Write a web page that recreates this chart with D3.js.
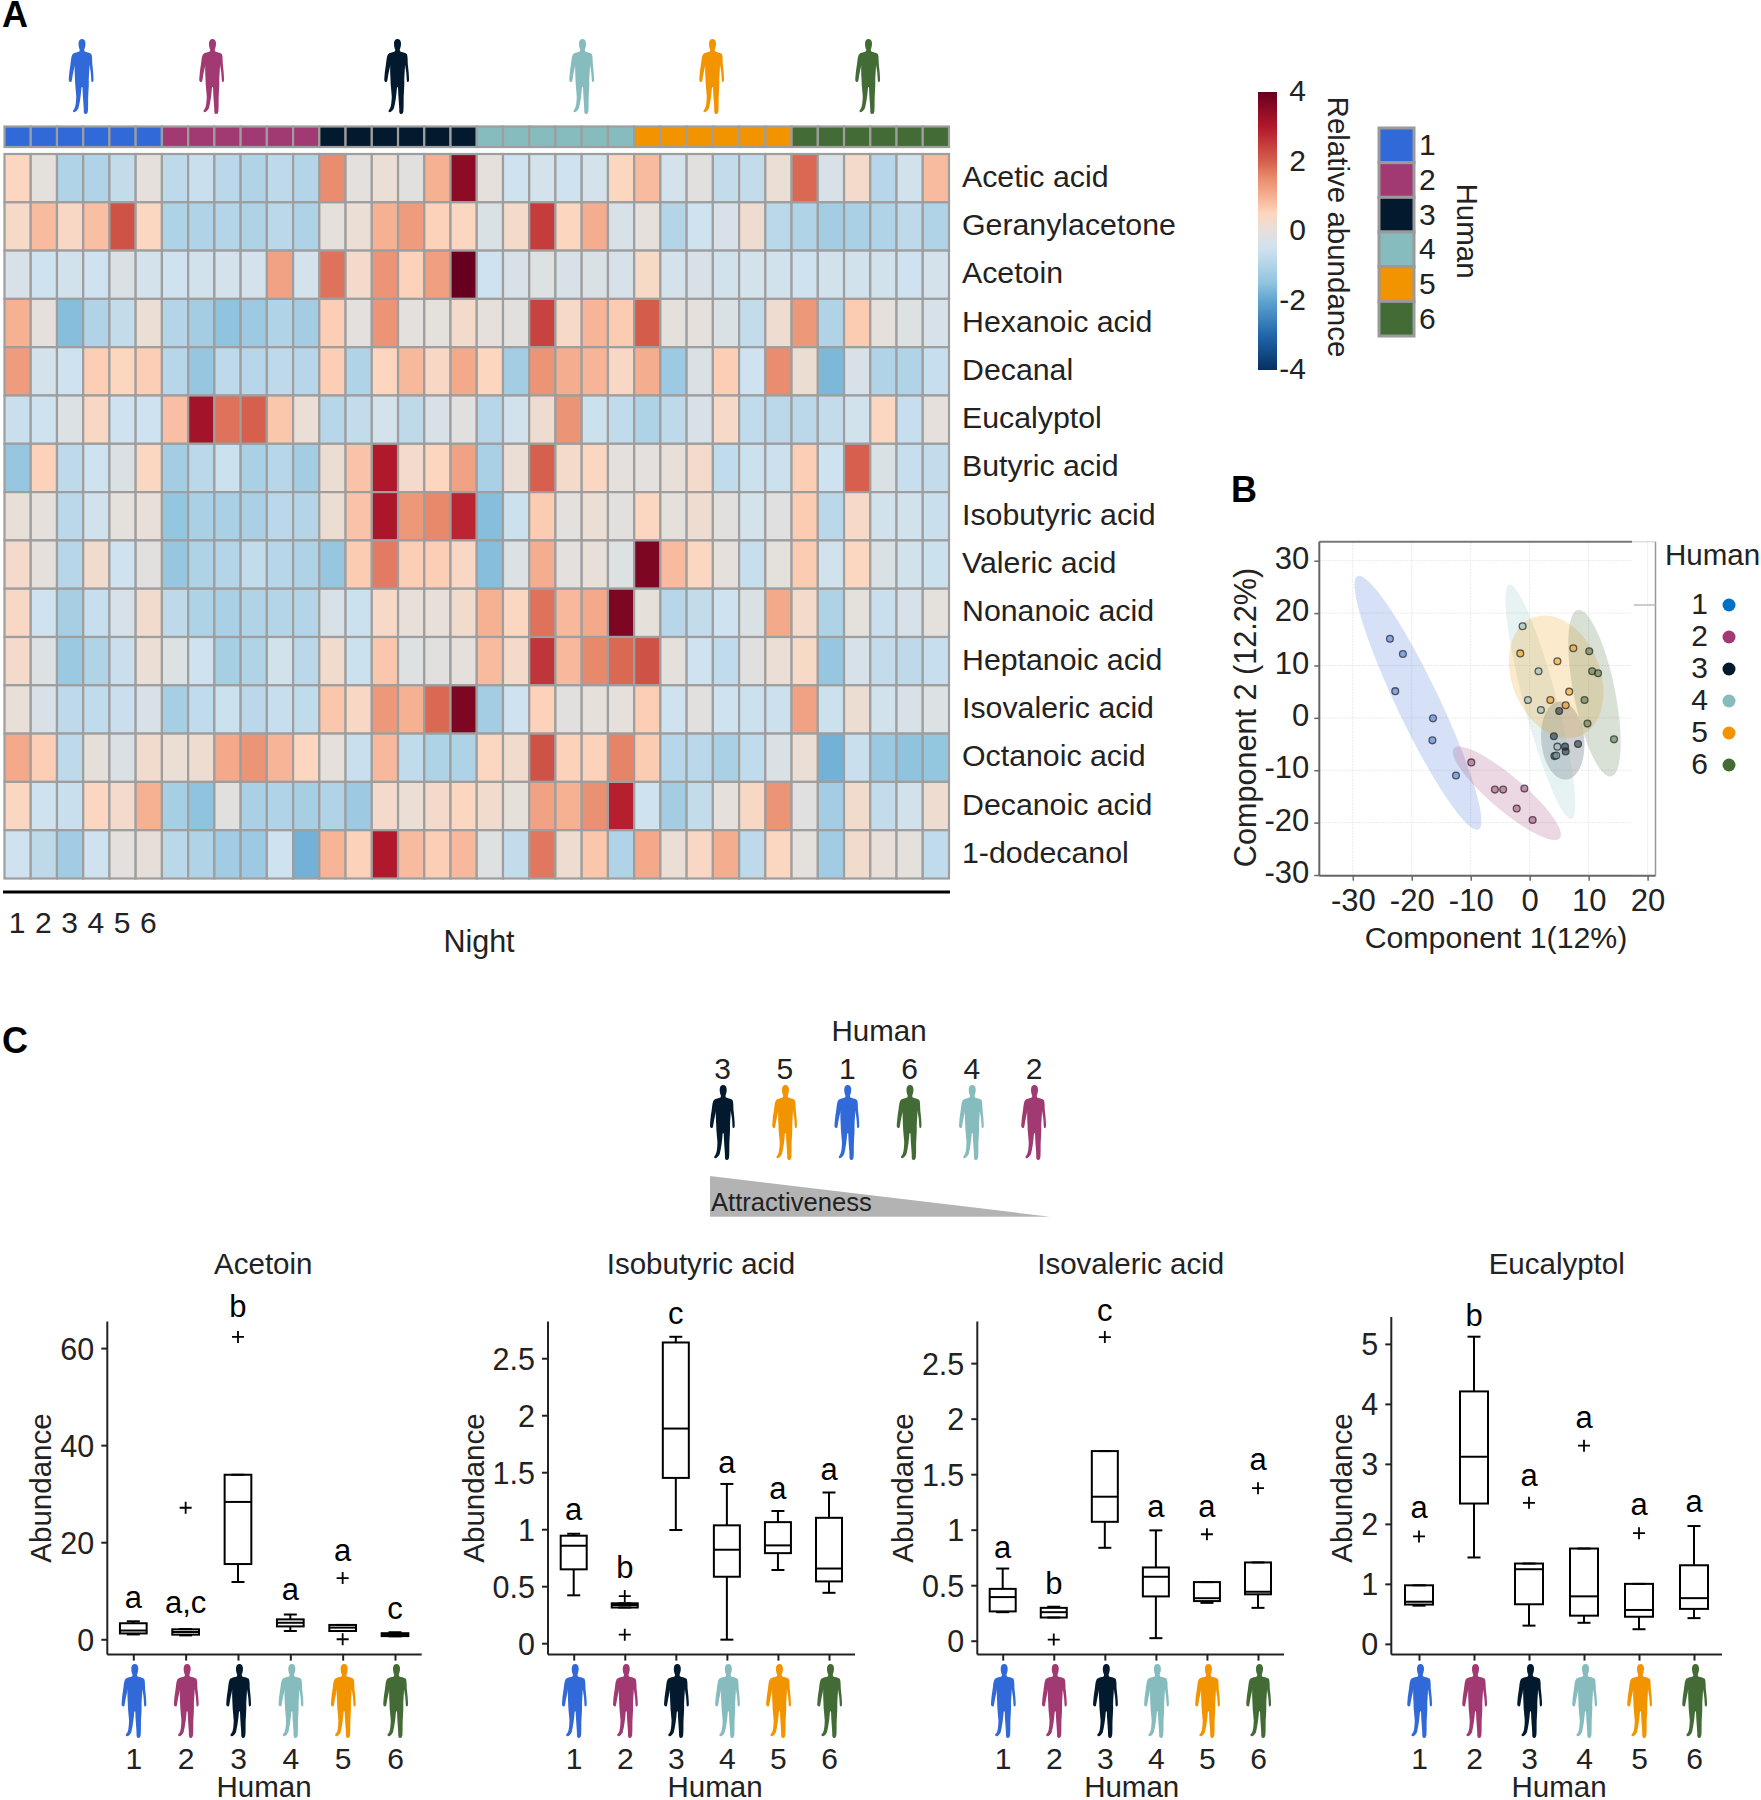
<!DOCTYPE html>
<html>
  <head>
    <meta charset="utf-8" />
    <script src="https://d3js.org/d3.v7.min.js"></script>
    <style>
      body { margin: 0; background: #fff; }
      text { font-family: "Liberation Sans", Arial, sans-serif; fill: #222; }
    </style>
  </head>
  <body>
    <div id="chart"></div>
    <script>
      // ---- data ----
      const humans = [1, 2, 3, 4, 5, 6];
      const humanColors = ["#3269d9", "#a13a72", "#03192e", "#86bcbe", "#f29400", "#426b35"];
      const legendDotColors = ["#0072c6", "#a13a72", "#03192e", "#86bcbe", "#f29400", "#426b35"];
      const attractivenessOrder = [3, 5, 1, 6, 4, 2];

      const compounds = [
        "Acetic acid", "Geranylacetone", "Acetoin", "Hexanoic acid", "Decanal",
        "Eucalyptol", "Butyric acid", "Isobutyric acid", "Valeric acid", "Nonanoic acid",
        "Heptanoic acid", "Isovaleric acid", "Octanoic acid", "Decanoic acid", "1-dodecanol",
      ];

      const heatValues = [
        [.5,-.03,-1,-1,-.7,0,-.8,-.6,-.85,-1,-.8,-.95,1.5,-.05,.1,-.1,1,3.5, 0,-.5,-.4,-.5,-.4,.5,.85,-.4,-.1,-.7,-.7,.1,1.9,-.3,.3,-.9,-.45,.85],
        [.35,.85,.4,.8,2.2,.45,-1.05,-1,-.95,-1.05,-.85,-1.05,0,.1,1,1.3,.55,.45, -.25,.3,2.5,.5,1.05,-.3,0,-.95,-.5,-.3,.2,-.85,-1,-1.2,-1.1,-1,-.8,-1],
        [-.3,-.5,-.45,-.5,-.25,-.4,-.5,-.45,-.4,-.4,1.2,-.4,1.8,.3,1.4,.55,1.25,4, -.5,-.3,-.15,-.3,-.25,-.35,.35,-.4,-.3,-.45,-.4,-.45,-.5,-.45,-.45,-.45,-.5,-.4],
        [1,0,-1.6,-1,-.7,.1,-.95,-1.2,-1.5,-1.3,-1,-1.2,.6,-.05,1.4,-.05,-.02,.3, 0,-.1,2.4,.35,.95,.65,2.05,-.02,0,-.25,-.7,.2,1.35,-1,.65,0,-.15,-.35],
        [1.3,-.4,-.5,.6,.5,.6,-.9,-1.4,-.8,-.9,-.8,-.9,.6,-1,.5,.9,.4,1.1, .5,-1.2,1.4,1.05,.95,.4,1.05,-1.3,-.25,.6,-.5,1.5,.15,-1.7,-.3,-1,-1,-.65],
        [-.6,-.5,-.2,.4,-.5,-.5,.8,3.2,1.8,2,.7,.1,-.9,-.7,-.4,-.8,-.3,-.1, -.9,-.45,.2,1.4,-.55,-.75,-1.05,-.8,-.3,.35,-.75,-.85,-.85,-.7,-.45,.45,-.65,0],
        [-1.4,.55,-.8,-.5,-.25,.45,-1.2,-.85,-.55,-1.1,-.9,-1.2,.15,.75,3,.3,.5,1.2, -1.1,.1,2,.3,.45,0,-.05,.05,.3,-.75,-.55,-.55,.6,-.5,2,-.25,-.65,-.7],
        [.05,0,-.85,-.45,-.02,.05,-1.45,-1.1,-1.1,-1.1,-.85,-.95,.15,.75,3.1,1.35,1.55,2.8, -1.6,-.55,.65,-.05,.1,-.1,.45,-.02,.2,-.08,-.4,-.12,.65,-.85,.35,-.45,-.45,-.6],
        [.3,0,-.9,.25,-.5,-.08,-1.4,-1.05,-.95,-.7,-.9,-1.05,-1.4,.65,1.7,.6,.6,.4, -1.6,-.2,1.05,-.05,.05,-.15,3.7,.85,.45,0,-.65,-.03,.65,-.45,.45,-.25,-.45,-.55],
        [.4,-.5,-1.15,-.65,-.35,.25,-.8,-1.05,-1.1,-1,-.95,-.95,-.3,-.55,.35,.05,.05,.25, 1,.45,1.8,.9,1.1,3.7,.02,-.9,-.7,-.5,-.25,1.1,.3,-1.05,-.02,-.6,-.35,-.02],
        [.3,-.2,-1.35,-1,-.6,.12,-.2,-.5,-1.15,-1,-.45,-.85,.25,-.55,.7,-.15,-.1,0, .85,.3,2.6,.9,1.55,1.9,2.2,-.03,-.5,-.75,-.12,.1,.35,-1.4,-.35,-.7,-.8,-.65],
        [.05,-.3,-.8,-.75,-.6,-.3,-1.15,-.75,-.55,-.85,-.65,-.75,.7,.4,1.35,1,1.9,3.7, -1.2,-.5,.55,-.1,.02,0,.6,-.5,-.08,-.5,-.55,-.55,1.2,-.55,.15,-.45,-.3,-.2],
        [1.1,.6,-.8,.03,-.25,.25,.1,.2,1.1,1.4,.95,.5,0,-.6,.9,-.75,-1.05,-1.05, .45,.25,2.2,.55,.55,1.6,.65,-.9,-.85,-1.1,-.75,-.25,.12,-1.8,-.6,-1.35,-1.5,-1.45],
        [.45,-.5,-.6,.45,.3,1,-1.15,-1.5,-.1,-1.1,-1,-1.15,-1,-1.3,.3,.1,.3,.45, .25,.02,1.2,1,1.45,2.9,-.5,-1.2,-.7,0,.4,1.4,-.12,-1.2,.25,-.7,-.45,.2],
        [-.5,-.8,-1.25,-.5,-.05,.03,-.85,-1,-1.25,-1.3,-.5,-1.8,.95,.55,3,.85,.6,.9, -.15,-.7,1.75,.2,.7,-1,1.1,.12,.4,1.05,-.8,.45,-.02,-1.25,.25,.05,-.03,-.75],
      ];

      const colorTicks = [-4, -2, 0, 2, 4];

      // score plot: one [x, y] list per human
      const scores = [
        [[-23.7,15.1],[-21.5,12.2],[-22.8,5.1],[-16.4,-0.1],[-16.5,-4.3],[-12.5,-11]],
        [[-9.9,-8.5],[-5.9,-13.7],[-4.5,-13.7],[-0.9,-13.5],[-2.2,-17.3],[0.5,-19.5]],
        [[5,1.3],[4.1,-3.5],[8.2,-5],[6,-5.5],[6.1,-6.4],[4.2,-7.3]],
        [[-1.2,17.5],[1.5,8.9],[-0.3,3.4],[1.9,1.5],[4.7,-5.5],[4.5,-7.2]],
        [[-1.6,12.3],[7.4,13.3],[4.7,10.8],[6.7,5],[3.5,3.4],[6.1,2.4]],
        [[10.1,12.7],[10.6,8.9],[11.6,8.5],[9.3,3.4],[9.8,-1.1],[14.3,-4.1]],
      ];
      // confidence ellipses: centre, semi-major vector, semi-minor vector
      const ellipses = [
        [-18.95, 2.87, 10.24, -24.2, 3.29, 1.65],
        [-3.86, -14.4, 8.96, -8.6, 1.93, 2.39],
        [5.61, -4.33, 0.58, -7.45, 3.63, 0.32],
        [1.81, 3.06, 5.26, -22.36, 2.72, 0.76],
        [4.5, 7.83, 3.8, -11.38, 7.06, 2.8],
        [10.99, 4.71, 2.81, -15.89, 3.44, 0.72],
      ];
      const scoreTicks = [-30, -20, -10, 0, 10, 20];
      const scoreTicksY = [-30, -20, -10, 0, 10, 20, 30];

      // box plots: [low whisker, Q1, median, Q3, high whisker] for humans 1..6
      const acetoinBox = [[1,1.2,1.8,3.3,3.7],[.8,.95,1.5,2.05,2.1],[11.8,15.5,28.3,33.9,33.9],[1.7,2.65,3.4,4.1,5.1],[1.7,1.7,2.4,2.95,2.95],[.6,.65,.95,1.25,1.45]];
      const acetoinOut = [[],[27.1],[62.3],[],[12.6,0],[]];
      const acetoinLetters = ["a", "a,c", "b", "a", "a", "c"];
      const acetoinLetterY = [6.4, 5.4, 66.4, 8, 16.2, 4.2];
      const acetoinTicks = [0, 20, 40, 60];

      const isobutyricBox = [[.42,.648,.855,.943,.96],[.313,.313,.335,.35,.35],[.993,1.45,1.883,2.638,2.688],[.031,.583,.82,1.034,1.397],[.642,.79,.858,1.062,1.16],[.442,.542,.655,1.1,1.322]];
      const isobutyricOut = [[],[.413,.075],[],[],[],[]];
      const isobutyricLetters = ["a", "b", "c", "a", "a", "a"];
      const isobutyricLetterY = [1.08, .572, 2.796, 1.49, 1.268, 1.428];
      const isobutyricTicks = [0, .5, 1, 1.5, 2, 2.5];

      const isovalericBox = [[.257,.264,.393,.467,.65],[.209,.209,.257,.296,.306],[.837,1.071,1.297,1.708,1.708],[.023,.399,.576,.66,.994],[.341,.357,.383,.528,.528],[.296,.418,.441,.705,.705]];
      const isovalericOut = [[],[.01],[2.735],[],[.959],[1.374]];
      const isovalericLetters = ["a", "b", "c", "a", "a", "a"];
      const isovalericLetterY = [.749, .421, 2.882, 1.112, 1.112, 1.537];
      const isovalericTicks = [0, .5, 1, 1.5, 2, 2.5];

      const eucalyptolBox = [[.637,.655,.702,.976,.976],[1.44,2.339,3.119,4.208,5.12],[.304,.66,1.244,1.339,1.339],[.351,.47,.792,1.589,1.589],[.244,.452,.565,1,1],[.429,.583,.762,1.31,1.964]];
      const eucalyptolOut = [[1.79],[],[2.351],[3.304],[1.845],[]];
      const eucalyptolLetters = ["a", "b", "a", "a", "a", "a"];
      const eucalyptolLetterY = [2.09, 5.29, 2.63, 3.6, 2.14, 2.2];
      const eucalyptolTicks = [0, 1, 2, 3, 4, 5];

      // ---- page ----
      const width = 1761;
      const height = 1800;
      const fontSize = 29.5;
      const cellStroke = "#9e9e9e";

      const svg = d3
        .select("#chart")
        .append("svg")
        .attr("width", width)
        .attr("height", height);

      // human silhouette in a 100 x 280 box
      const humanPath =
        "M54,0 C63,0 68,7 68,17 C68,27 65,35 63,40 L64,46 C72,50 84,50 91,56 C96,64 94,85 96,100 " +
        "C98,118 100,135 100,150 C101,158 97,162 92,160 C90,150 91,135 88,118 C86,108 85,100 84,96 " +
        "C84,110 82,130 81,150 C82,170 80,190 79,210 C78,225 79,245 78,262 C78,272 76,280 68,280 " +
        "C62,280 60,272 61,262 C60,240 57,215 56,180 L52,180 C50,205 46,235 40,258 C36,266 28,274 22,273 " +
        "C16,272 17,266 22,262 C28,255 30,240 31,215 C30,195 26,170 26,150 C25,130 24,110 25,96 " +
        "C24,105 22,112 20,120 C16,135 15,150 12,160 C6,162 0,158 1,150 C2,135 4,115 7,100 " +
        "C10,85 10,64 17,56 C24,50 36,50 44,46 L45,40 C42,35 40,27 40,17 C40,7 45,0 54,0 Z";

      function drawHuman(cx, top, h, color) {
        svg
          .append("path")
          .attr("d", humanPath)
          .attr("fill", color)
          .attr("transform", `translate(${cx - 13},${top}) scale(0.25,${h / 280})`);
      }

      function addText(x, y, str, opts = {}) {
        const t = svg
          .append("text")
          .attr("x", x)
          .attr("y", y)
          .attr("font-size", opts.size || fontSize)
          .attr("text-anchor", opts.anchor || "start")
          .attr("font-weight", opts.weight || "normal")
          .text(str);
        if (opts.rotate) t.attr("transform", `rotate(${opts.rotate},${x},${y})`);
        return t;
      }

      addText(2, 27, "A", { size: 36, weight: "bold" }).style("fill", "#000");
      addText(1231, 502, "B", { size: 36, weight: "bold" }).style("fill", "#000");
      addText(2, 1053, "C", { size: 36, weight: "bold" }).style("fill", "#000");

      // ---- panel A: heatmap ----
      const heatColor = d3
        .scaleLinear()
        .domain([-4, -3, -2, -1.5, -1, -0.5, 0, 0.5, 1, 1.5, 2, 3, 4])
        .range(["#053061", "#2166ac", "#5fa5d0", "#90c4de", "#b1d3e7", "#cfe2ef", "#e5e0db",
                "#fdd6bf", "#f6b092", "#ea8d6f", "#d6604d", "#b2182b", "#67001f"]);

      const columns = d3.range(36);
      const xCell = d3.scaleBand().domain(columns).range([4.5, 949]);
      const yCell = d3.scaleBand().domain(compounds).range([154, 878.5]);

      svg
        .append("g")
        .selectAll("g")
        .data(heatValues)
        .join("g")
        .attr("transform", (d, i) => `translate(0,${yCell(compounds[i])})`)
        .selectAll("rect")
        .data((d) => d)
        .join("rect")
        .attr("x", (d, i) => xCell(i))
        .attr("width", xCell.bandwidth())
        .attr("height", yCell.bandwidth())
        .attr("fill", (d) => heatColor(d))
        .attr("stroke", cellStroke)
        .attr("stroke-width", 2.2);

      // annotation bar above the heatmap
      svg
        .append("g")
        .selectAll("rect")
        .data(columns)
        .join("rect")
        .attr("x", (d) => xCell(d))
        .attr("y", 126.5)
        .attr("width", xCell.bandwidth())
        .attr("height", 20.5)
        .attr("fill", (d) => humanColors[Math.floor(d / 6)])
        .attr("stroke", cellStroke)
        .attr("stroke-width", 2.2);

      compounds.forEach((c) => {
        addText(962, yCell(c) + yCell.bandwidth() / 2 + 8.5, c, { size: 30.3 });
      });

      const topIconX = [81.5, 212, 397, 582, 712, 868];
      humanColors.forEach((c, i) => {
        drawHuman(topIconX[i], 39, 75, c);
      });

      svg
        .append("rect")
        .attr("x", 3)
        .attr("y", 890.5)
        .attr("width", 947)
        .attr("height", 3)
        .attr("fill", "#000");

      humans.forEach((h, i) => {
        addText(xCell(i) + xCell.bandwidth() / 2 - 0.5, 933, h, { anchor: "middle", size: 30 });
      });
      addText(479, 952, "Night", { anchor: "middle", size: 30.5 });

      // colour bar
      const yBar = d3.scaleLinear().domain([-4, 4]).range([370, 92]);
      const grad = svg
        .append("defs")
        .append("linearGradient")
        .attr("id", "barGrad")
        .attr("x1", 0)
        .attr("x2", 0)
        .attr("y1", 1)
        .attr("y2", 0);
      grad
        .selectAll("stop")
        .data(heatColor.domain())
        .join("stop")
        .attr("offset", (d) => (d + 4) / 8)
        .attr("stop-color", (d) => heatColor(d));
      svg
        .append("rect")
        .attr("x", 1258)
        .attr("y", yBar(4))
        .attr("width", 19)
        .attr("height", yBar(-4) - yBar(4))
        .attr("fill", "url(#barGrad)");
      colorTicks.forEach((t) => {
        addText(1306, yBar(t) + 9, String(t), { anchor: "end", size: 30 });
      });
      addText(1328, 227, "Relative abundance", { anchor: "middle", rotate: 90 });

      // human legend
      const yLegend = d3.scaleBand().domain(humans).range([128, 336]);
      svg
        .append("g")
        .selectAll("rect")
        .data(humans)
        .join("rect")
        .attr("x", 1379)
        .attr("y", (d) => yLegend(d))
        .attr("width", 35)
        .attr("height", yLegend.bandwidth())
        .attr("fill", (d, i) => humanColors[i])
        .attr("stroke", "#9a9a9a")
        .attr("stroke-width", 3);
      humans.forEach((h) => {
        addText(1419, yLegend(h) + yLegend.bandwidth() / 2 + 10, h, { size: 30 });
      });
      addText(1457, 231, "Human", { anchor: "middle", rotate: 90 });

      // ---- panel B: score plot ----
      const xScore = d3.scaleLinear().domain([-30, 20]).range([1352.8, 1647.6]);
      const yScore = d3.scaleLinear().domain([-30, 30]).range([875, 560.7]);
      const frame = { left: 1319.3, right: 1655.5, top: 541.7, bottom: 875.7 };

      svg
        .append("g")
        .selectAll("line")
        .data(scoreTicks)
        .join("line")
        .attr("x1", (d) => xScore(d))
        .attr("x2", (d) => xScore(d))
        .attr("y1", frame.top)
        .attr("y2", frame.bottom)
        .attr("stroke", "#e9e9e9")
        .attr("stroke-dasharray", "2,1");
      svg
        .append("g")
        .selectAll("line")
        .data(scoreTicksY)
        .join("line")
        .attr("x1", frame.left)
        .attr("x2", 1632)
        .attr("y1", (d) => yScore(d))
        .attr("y2", (d) => yScore(d))
        .attr("stroke", "#e9e9e9")
        .attr("stroke-dasharray", "2,1");

      const ellipseLine = d3
        .line()
        .x((p) => xScore(p[0]))
        .y((p) => yScore(p[1]))
        .curve(d3.curveLinearClosed);
      const angles = d3.range(0, 2 * Math.PI, 0.05);
      svg
        .append("g")
        .selectAll("path")
        .data(ellipses)
        .join("path")
        .attr("d", (e) =>
          ellipseLine(
            angles.map((t) => [
              e[0] + e[2] * Math.cos(t) + e[4] * Math.sin(t),
              e[1] + e[3] * Math.cos(t) + e[5] * Math.sin(t),
            ])
          )
        )
        .attr("fill", (d, i) => humanColors[i])
        .attr("fill-opacity", 0.2);

      scores.forEach((pts, i) => {
        svg
          .append("g")
          .selectAll("circle")
          .data(pts)
          .join("circle")
          .attr("cx", (d) => xScore(d[0]))
          .attr("cy", (d) => yScore(d[1]))
          .attr("r", 3.4)
          .attr("fill", humanColors[i])
          .attr("fill-opacity", 0.5)
          .attr("stroke", "#2b2b2b")
          .attr("stroke-opacity", 0.75)
          .attr("stroke-width", 1.3);
      });

      const frameLines = [
        [frame.left, frame.top, 1632, frame.top, "#777"],
        [1632, frame.top, frame.right, frame.top, "#ddd"],
        [frame.right, frame.top, frame.right, frame.bottom, "#999"],
        [1634, 605, frame.right, 605, "#bbb"],
      ];
      svg
        .append("g")
        .selectAll("line")
        .data(frameLines)
        .join("line")
        .attr("x1", (d) => d[0])
        .attr("y1", (d) => d[1])
        .attr("x2", (d) => d[2])
        .attr("y2", (d) => d[3])
        .attr("stroke", (d) => d[4])
        .attr("stroke-width", (d) => (d[4] === "#777" ? 2 : 1.5));

      const xAxisB = d3
        .axisBottom(xScore)
        .tickValues(scoreTicks)
        .tickSize(5)
        .tickPadding(8)
        .tickSizeOuter(0)
        .tickFormat((d) => String(d));
      const gx = svg.append("g").attr("transform", `translate(0,${frame.bottom})`).call(xAxisB);
      gx.select(".domain").attr("d", `M${frame.left},0H${frame.right}`).attr("stroke", "#666").attr("stroke-width", 2);
      gx.selectAll(".tick line").attr("stroke", "#666").attr("stroke-width", 1.5);
      gx.selectAll(".tick text").attr("font-size", 31).attr("font-family", null);

      const yAxisB = d3
        .axisLeft(yScore)
        .tickValues(scoreTicksY)
        .tickSize(5)
        .tickPadding(5)
        .tickSizeOuter(0)
        .tickFormat((d) => String(d));
      const gy = svg.append("g").attr("transform", `translate(${frame.left},0)`).call(yAxisB);
      gy.select(".domain").attr("d", `M0,${frame.top}V${frame.bottom}`).attr("stroke", "#666").attr("stroke-width", 2);
      gy.selectAll(".tick line").attr("stroke", "#666").attr("stroke-width", 1.5);
      gy.selectAll(".tick text").attr("font-size", 31).attr("font-family", null).attr("dy", "0.25em");

      addText(1496, 948, "Component 1(12%)", { anchor: "middle", size: 30.3 });
      addText(1256, 717.5, "Component 2 (12.2%)", { anchor: "middle", size: 30.6, rotate: -90 });

      addText(1665, 565, "Human", { size: 29.5 });
      const yKey = d3.scalePoint().domain(humans).range([604, 764]);
      humans.forEach((h, i) => {
        addText(1708, yKey(h) + 10, h, { anchor: "end", size: 30 });
        svg
          .append("circle")
          .attr("cx", 1729)
          .attr("cy", yKey(h) + 1)
          .attr("r", 6.5)
          .attr("fill", legendDotColors[i]);
      });

      // ---- panel C header ----
      addText(879, 1041, "Human", { anchor: "middle" });
      const xOrder = d3.scalePoint().domain(attractivenessOrder).range([722.7, 1034]);
      attractivenessOrder.forEach((h) => {
        addText(xOrder(h), 1078.5, h, { anchor: "middle", size: 30 });
        drawHuman(xOrder(h), 1085, 75, humanColors[h - 1]);
      });
      svg
        .append("polygon")
        .attr("points", "710,1176 710,1216.7 1050,1216.7")
        .attr("fill", "#b3b3b3");
      addText(711, 1211, "Attractiveness", { size: 25.6 });

      // ---- panel C box plots ----
      const boxPanels = [
        {
          title: "Acetoin", box: acetoinBox, out: acetoinOut, letters: acetoinLetters, letterY: acetoinLetterY,
          ticks: acetoinTicks, axisX: 107.3, endX: 421.7, firstX: 133.3, lastX: 395, domain: [-3.16, 65.5],
          titleX: 263.3, humanX: 264, labelX: 50.7, boxW: 26.7, axisTop: 1321.4,
        },
        {
          title: "Isobutyric acid", box: isobutyricBox, out: isobutyricOut, letters: isobutyricLetters, letterY: isobutyricLetterY,
          ticks: isobutyricTicks, axisX: 548, endX: 855, firstX: 573.7, lastX: 829, domain: [-0.1, 2.823],
          titleX: 701, humanX: 715, labelX: 484, boxW: 26, axisTop: 1321.4,
        },
        {
          title: "Isovaleric acid", box: isovalericBox, out: isovalericOut, letters: isovalericLetters, letterY: isovalericLetterY,
          ticks: isovalericTicks, axisX: 977.3, endX: 1284, firstX: 1002.7, lastX: 1258, domain: [-0.125, 2.876],
          titleX: 1130.7, humanX: 1131.7, labelX: 913, boxW: 26, axisTop: 1321.4,
        },
        {
          title: "Eucalyptol", box: eucalyptolBox, out: eucalyptolOut, letters: eucalyptolLetters, letterY: eucalyptolLetterY,
          ticks: eucalyptolTicks, axisX: 1391.3, endX: 1722, firstX: 1419, lastX: 1694, domain: [-0.179, 5.375],
          titleX: 1556.7, humanX: 1559, labelX: 1351.7, boxW: 28, axisTop: 1317,
        },
      ];

      const plotBottom = 1654.6;
      const plotTop = 1321.4;

      boxPanels.forEach((p) => {
        const x = d3.scalePoint().domain(humans).range([p.firstX, p.lastX]);
        const y = d3.scaleLinear().domain(p.domain).range([plotBottom, plotTop]);

        const g = svg.append("g");

        const yAxis = d3
          .axisLeft(y)
          .tickValues(p.ticks)
          .tickSize(6)
          .tickPadding(7)
          .tickSizeOuter(0)
          .tickFormat((d) => String(d));
        const ya = g.append("g").attr("transform", `translate(${p.axisX},0)`).call(yAxis);
        ya.select(".domain")
          .attr("d", `M0,${p.axisTop}V${plotBottom}`)
          .attr("stroke", "#222")
          .attr("stroke-width", 2);
        ya.selectAll(".tick line").attr("stroke", "#222").attr("stroke-width", 2);
        ya.selectAll(".tick text").attr("font-size", 30.5).attr("font-family", null).attr("dy", "0.36em");

        const xAxis = d3.axisBottom(x).tickSize(6).tickPadding(87).tickSizeOuter(0);
        const xa = g.append("g").attr("transform", `translate(0,${plotBottom})`).call(xAxis);
        xa.select(".domain")
          .attr("d", `M${p.axisX},0H${p.endX}`)
          .attr("stroke", "#222")
          .attr("stroke-width", 2);
        xa.selectAll(".tick line").attr("stroke", "#222").attr("stroke-width", 2);
        xa.selectAll(".tick text").attr("font-size", 30).attr("font-family", null);

        const boxes = g
          .append("g")
          .selectAll("g")
          .data(p.box)
          .join("g")
          .attr("transform", (d, i) => `translate(${x(humans[i])},0)`)
          .attr("stroke", "#000")
          .attr("stroke-width", 2)
          .attr("fill", "none");

        // whiskers, caps, box, median
        boxes.append("line").attr("y1", (d) => y(d[4])).attr("y2", (d) => y(d[3]));
        boxes.append("line").attr("y1", (d) => y(d[0])).attr("y2", (d) => y(d[1]));
        boxes.append("line").attr("x1", -6.5).attr("x2", 6.5).attr("y1", (d) => y(d[4])).attr("y2", (d) => y(d[4]));
        boxes.append("line").attr("x1", -6.5).attr("x2", 6.5).attr("y1", (d) => y(d[0])).attr("y2", (d) => y(d[0]));
        boxes
          .append("rect")
          .attr("x", -p.boxW / 2)
          .attr("width", p.boxW)
          .attr("y", (d) => y(d[3]))
          .attr("height", (d) => y(d[1]) - y(d[3]));
        boxes
          .append("line")
          .attr("x1", -p.boxW / 2)
          .attr("x2", p.boxW / 2)
          .attr("y1", (d) => y(d[2]))
          .attr("y2", (d) => y(d[2]));

        p.out.forEach((vals, i) => {
          g.append("g")
            .selectAll("path")
            .data(vals)
            .join("path")
            .attr("d", "M-6,0H6M0,-6V6")
            .attr("transform", (v) => `translate(${x(humans[i])},${y(v)})`)
            .attr("stroke", "#000")
            .attr("stroke-width", 1.8)
            .attr("fill", "none");

          addText(x(humans[i]), y(p.letterY[i]), p.letters[i], { anchor: "middle", size: 31 }).style("fill", "#000");
        });

        humans.forEach((h, i) => {
          drawHuman(x(h) + 1, 1664, 74, humanColors[i]);
        });

        addText(p.titleX, 1273.5, p.title, { anchor: "middle" });
        addText(p.humanX, 1797, "Human", { anchor: "middle" });
        addText(p.labelX, 1488, "Abundance", { anchor: "middle", rotate: -90 });
      });
    </script>
  </body>
</html>
